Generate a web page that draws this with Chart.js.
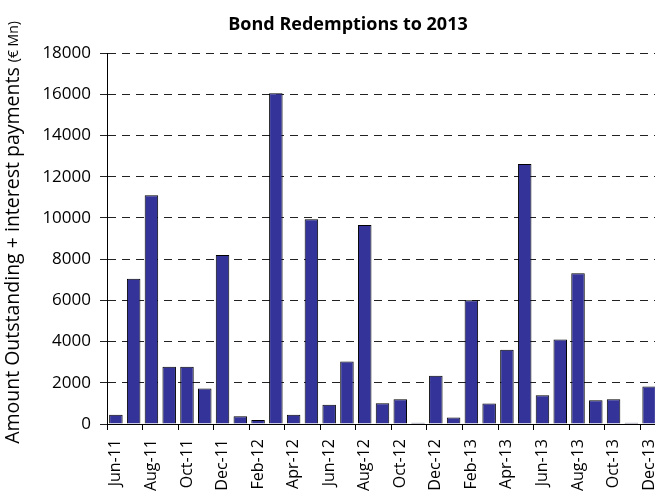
<!DOCTYPE html>
<html>
<head>
<meta charset="utf-8">
<script src="https://cdn.jsdelivr.net/npm/chart.js@4"></script>
<style>
    html, body { margin: 0; padding: 0; background: #fff; overflow: hidden; }
    #wrap { position: relative; width: 658px; height: 500px; }
</style>
</head>
<body>
<div id="wrap"><canvas id="bondChart"></canvas></div>
<script>
// --- Data ---
const months = [
    'Jun-11', 'Jul-11', 'Aug-11', 'Sep-11', 'Oct-11', 'Nov-11', 'Dec-11',
    'Jan-12', 'Feb-12', 'Mar-12', 'Apr-12', 'May-12', 'Jun-12', 'Jul-12', 'Aug-12', 'Sep-12', 'Oct-12', 'Nov-12', 'Dec-12',
    'Jan-13', 'Feb-13', 'Mar-13', 'Apr-13', 'May-13', 'Jun-13', 'Jul-13', 'Aug-13', 'Sep-13', 'Oct-13', 'Nov-13', 'Dec-13'
];
const redemptions = [
    450, 7050, 11100, 2780, 2780, 1720, 8200,
    370, 190, 16050, 450, 9930, 940, 3030, 9650, 1010, 1200, 60, 2340,
    320, 6000, 1000, 3600, 12620, 1390, 4100, 7320, 1150, 1200, 60, 1820
];
const yTicks = [0, 2000, 4000, 6000, 8000, 10000, 12000, 14000, 16000, 18000];

const chartTitle = 'Bond Redemptions to 2013';
const yLabelMain = 'Amount Outstanding + interest payments ';
const yLabelUnit = '(€ Mn)';

// --- Title + rotated axis label (two font sizes) ---
const textPlugin = {
    id: 'textPlugin',
    afterDraw(chart) {
        const ctx = chart.ctx;
        ctx.save();
        ctx.fillStyle = '#000';
        ctx.textBaseline = 'middle';

        ctx.font = 'bold 18px "Open Sans"';
        ctx.textAlign = 'center';
        ctx.fillText(chartTitle, 348, 25);

        const area = chart.chartArea;
        const mid = (area.top + area.bottom) / 2 - 6;
        ctx.translate(13, mid);
        ctx.rotate(-Math.PI / 2);
        ctx.font = '19.5px "Open Sans"';
        const w1 = ctx.measureText(yLabelMain).width;
        ctx.font = '14px "Open Sans"';
        const w2 = ctx.measureText(yLabelUnit).width;
        let x = -(w1 + w2) / 2;
        ctx.textAlign = 'left';
        ctx.font = '19.5px "Open Sans"';
        ctx.fillText(yLabelMain, x, 0);
        ctx.font = '14px "Open Sans"';
        ctx.fillText(yLabelUnit, x + w1, 1);
        ctx.restore();
    }
};

const ctx = document.getElementById('bondChart');
new Chart(ctx, {
    type: 'bar',
    data: {
        labels: months,
        datasets: [{
            data: redemptions,
            backgroundColor: '#333399',
            borderColor: '#000',
            borderWidth: 1,
            barPercentage: 0.76,
            categoryPercentage: 1.0
        }]
    },
    options: {
        responsive: true,
        maintainAspectRatio: false,
        animation: false,
        layout: { padding: { top: 53, left: 0, right: 0, bottom: 0 } },
        plugins: {
            legend: { display: false },
            title: { display: false },
            tooltip: { enabled: false }
        },
        scales: {
            x: {
                afterFit: (scale) => {
                    scale.height = 76;
                    scale.paddingLeft = 0;
                    scale.paddingRight = 0;
                },
                grid: {
                    offset: true,
                    drawOnChartArea: false,
                    drawTicks: true,
                    tickLength: 6,
                    color: (c) => (c.index % 2 === 0 ? '#000' : 'rgba(0,0,0,0)')
                },
                border: { display: true, color: '#000', width: 1 },
                ticks: {
                    autoSkip: false,
                    maxRotation: 90,
                    minRotation: 90,
                    padding: 9,
                    color: '#000',
                    font: { family: 'Open Sans', size: 16 },
                    callback: (v, i) => (i % 2 === 0 ? months[i] : '')
                }
            },
            y: {
                min: 0,
                max: 18000,
                afterFit: (scale) => {
                    scale.width = 107;
                    scale.paddingTop = 0;
                    scale.paddingBottom = 0;
                },
                afterBuildTicks: (scale) => { scale.ticks = yTicks.map(v => ({ value: v })); },
                grid: {
                    color: '#222',
                    lineWidth: 1,
                    drawTicks: true,
                    tickLength: 7
                },
                border: { display: true, color: '#000', width: 1, dash: [8, 6] },
                ticks: {
                    padding: 9,
                    color: '#000',
                    font: { family: 'Open Sans', size: 17 },
                    callback: (v) => String(v)
                }
            }
        }
    },
    plugins: [textPlugin]
});
</script>
</body>
</html>
